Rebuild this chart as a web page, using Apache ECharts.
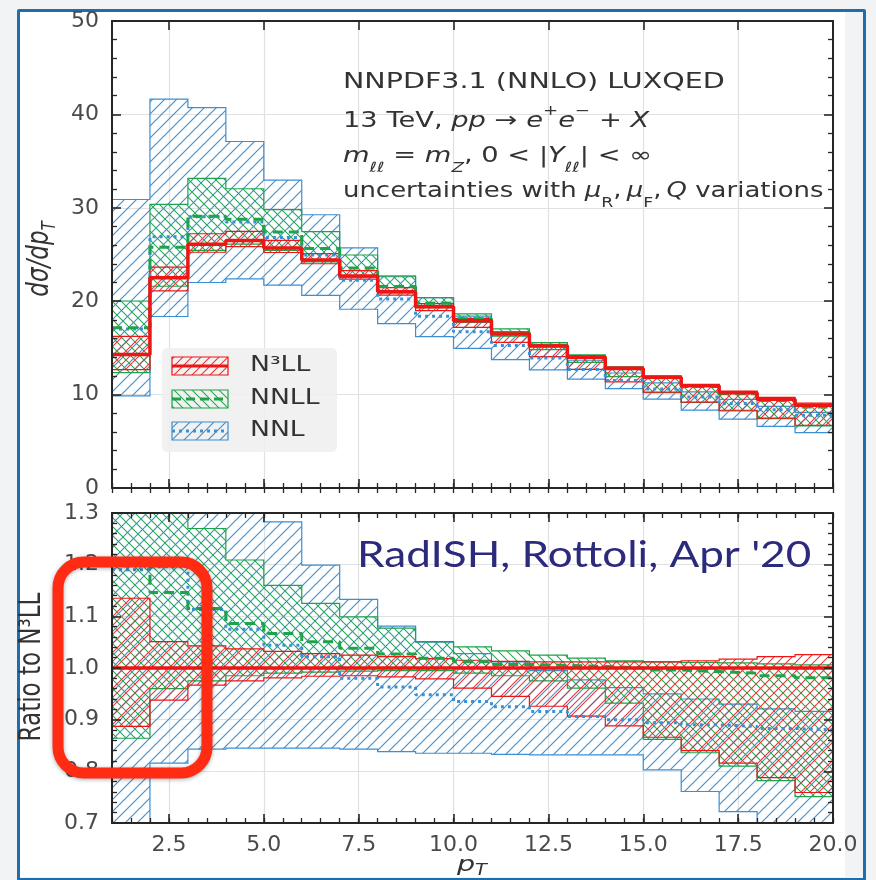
<!DOCTYPE html>
<html>
<head>
<meta charset="utf-8">
<script src="https://cdn.jsdelivr.net/npm/echarts@6/dist/echarts.min.js"></script>
<style>
  html, body { margin: 0; padding: 0; background: #f2f3f4; }
  #stage { position: relative; width: 876px; height: 880px; overflow: hidden; }
  #sheet { position: absolute; left: 19px; top: 11px; width: 826px; height: 866px; background: #ffffff; }
  #frame { position: absolute; left: 17px; top: 9px; width: 843px; height: 866px; border: 3px solid #1f6dab; border-radius: 2px; }
  #chart { position: absolute; left: 0; top: 0; width: 876px; height: 880px; }
</style>
</head>
<body>
<div id="stage">
  <div id="sheet"></div>
  <div id="frame"></div>
  <div id="chart"></div>
</div>
<script>
// Bin edges in p_T (one-unit bins from 1 to 20)
const ptEdges = [1, 2, 3, 4, 5, 6, 7, 8, 9, 10, 11, 12, 13, 14, 15, 16, 17, 18, 19, 20];

// N3LL central value of dsigma/dpT per bin
const n3llCentral = [14.3, 22.5, 26.1, 26.5, 25.7, 24.4, 22.7, 21.0, 19.4, 17.9,
                     16.5, 15.2, 14.0, 12.8, 11.85, 10.95, 10.2, 9.5, 8.85];

// Everything below is given as a ratio to the N3LL central value
const n3llLo = [0.887, 0.938, 0.967, 0.975, 0.981, 0.984, 0.985, 0.983, 0.979, 0.961,
                0.945, 0.926, 0.907, 0.888, 0.866, 0.840, 0.816, 0.788, 0.759];
const n3llHi = [1.135, 1.051, 1.043, 1.037, 1.032, 1.028, 1.025, 1.022, 1.018, 1.015,
                1.013, 1.012, 1.012, 1.012, 1.012, 1.014, 1.017, 1.022, 1.026];

const nnllCen = [1.200, 1.146, 1.115, 1.086, 1.067, 1.051, 1.038, 1.027, 1.019, 1.012,
                 1.007, 1.005, 1.003, 1.000, 0.996, 0.993, 0.990, 0.985, 0.981];
const nnllLo = [0.864, 0.960, 0.975, 0.985, 0.990, 0.992, 0.994, 0.995, 0.995, 0.990,
                0.985, 0.975, 0.961, 0.932, 0.862, 0.836, 0.810, 0.782, 0.751];
const nnllHi = [1.400, 1.350, 1.270, 1.209, 1.160, 1.125, 1.099, 1.077, 1.051, 1.041,
                1.033, 1.025, 1.019, 1.014, 1.012, 1.011, 1.010, 1.008, 1.006];

const nnlCen = [1.190, 1.196, 1.113, 1.075, 1.044, 1.022, 0.980, 0.963, 0.948, 0.935,
                0.925, 0.916, 0.906, 0.900, 0.894, 0.890, 0.887, 0.883, 0.880];
const nnlLo = [0.690, 0.816, 0.843, 0.845, 0.845, 0.845, 0.843, 0.838, 0.835, 0.835,
               0.833, 0.832, 0.832, 0.832, 0.803, 0.761, 0.722, 0.695, 0.670];
const nnlHi = [2.160, 1.850, 1.560, 1.400, 1.283, 1.199, 1.133, 1.081, 1.050, 1.028,
               1.012, 0.995, 0.977, 0.962, 0.950, 0.940, 0.930, 0.921, 0.916];

// Axis ticks
const xTickValues = [2.5, 5.0, 7.5, 10.0, 12.5, 15.0, 17.5, 20.0];
const xTickLabels = ['2.5', '5.0', '7.5', '10.0', '12.5', '15.0', '17.5', '20.0'];
const xMinorStep = 0.5;

const seriesNames = ['N\u00b3LL', 'NNLL', 'NNL'];

// ---------------------------------------------------------------------------
const RED = '#ee1515';
const GREEN = '#1fa34a';
const BLUE = '#3b8fd3';
const AXIS = '#262626';
const TICKTXT = '#4a4a4a';
const FONT = 'DejaVu Sans';

// absolute values for the upper panel
const toAbs = arr => arr.map((r, i) => r * n3llCentral[i]);
const unity = n3llCentral.map(v => v / v);

// hatch tile: dir > 0 draws '/', dir < 0 draws '\'
function hatch(color, size, dir, width) {
  const c = document.createElement('canvas');
  c.width = size; c.height = size;
  const g = c.getContext('2d');
  g.clearRect(0, 0, size, size);
  g.strokeStyle = color;
  g.lineWidth = width;
  g.beginPath();
  const h = size / 2;
  if (dir > 0) {
    g.moveTo(0, size); g.lineTo(size, 0);
    g.moveTo(-h, h); g.lineTo(h, -h);
    g.moveTo(h, size + h); g.lineTo(size + h, h);
  } else {
    g.moveTo(0, 0); g.lineTo(size, size);
    g.moveTo(-h, h); g.lineTo(h, size + h);
    g.moveTo(h, -h); g.lineTo(size + h, h);
  }
  g.stroke();
  return { type: 'pattern', image: c, repeat: 'repeat' };
}

const redHatch = hatch('#f03030', 9, 1, 1.05);
const greenHatch = hatch('#22a84f', 9, -1, 1.05);
const blueHatch = hatch(BLUE, 12, 1, 1.1);

function stepPoints(vals) {
  const pts = [];
  vals.forEach((v, i) => { pts.push([ptEdges[i], v], [ptEdges[i + 1], v]); });
  return pts;
}

// uncertainty band as one stepped polygon (upper edge left->right, lower edge back)
function bandSeries(name, lo, hi, color, pattern, xi, yi, z) {
  return {
    type: 'custom', name: name, xAxisIndex: xi, yAxisIndex: yi, z: z,
    clip: true, silent: true,
    data: [[ptEdges[0], 1]],
    renderItem: function (params, api) {
      const upper = [], lower = [];
      for (let i = 0; i < lo.length; i++) {
        upper.push(api.coord([ptEdges[i], hi[i]]), api.coord([ptEdges[i + 1], hi[i]]));
        lower.push(api.coord([ptEdges[i], lo[i]]), api.coord([ptEdges[i + 1], lo[i]]));
      }
      return {
        type: 'polygon',
        shape: { points: upper.concat(lower.reverse()) },
        style: { fill: pattern, stroke: color, lineWidth: 1.2 }
      };
    }
  };
}

function centralSeries(name, vals, color, dash, width, xi, yi, z) {
  return {
    type: 'line', name: name, xAxisIndex: xi, yAxisIndex: yi, z: z,
    data: stepPoints(vals), symbol: 'none', showSymbol: false, silent: true,
    clip: true,
    lineStyle: { color: color, width: width, type: dash, cap: 'butt' }
  };
}

const xMinorTicks = [];
for (let v = ptEdges[0]; v <= ptEdges[ptEdges.length - 1] + 1e-9; v += xMinorStep) xMinorTicks.push(v);

// ---- axes --------------------------------------------------------------------
const MAJOR_LEN = 9, MINOR_LEN = 5;
const LABEL_SIZE = 22;

function xAxes(gridIndex, withLabels) {
  const common = { type: 'value', gridIndex: gridIndex, min: ptEdges[0], max: ptEdges[ptEdges.length - 1] };
  return [
    // grid lines (behind the bands)
    Object.assign({}, common, {
      position: 'bottom', z: 0,
      axisLine: { show: false },
      axisTick: { show: false, customValues: xTickValues },
      axisLabel: { show: false, customValues: xTickValues },
      splitLine: { show: true, lineStyle: { color: '#e1e1e1', width: 1.2 } }
    }),
    // frame + major ticks + labels
    Object.assign({}, common, {
      position: 'bottom', z: 10,
      axisLine: { show: true, onZero: false, lineStyle: { color: AXIS, width: 2 } },
      axisTick: { show: true, inside: true, length: MAJOR_LEN, customValues: xTickValues, lineStyle: { color: AXIS, width: 1.6 } },
      axisLabel: {
        show: withLabels, customValues: xTickValues, margin: 11,
        color: TICKTXT, fontSize: LABEL_SIZE, fontFamily: FONT,
        formatter: v => { const k = xTickValues.findIndex(t => Math.abs(t - v) < 1e-9); return k >= 0 ? xTickLabels[k] : ''; }
      },
      splitLine: { show: false }
    }),
    Object.assign({}, common, {
      position: 'bottom', z: 10,
      axisLine: { show: false },
      axisTick: { show: true, inside: true, length: MINOR_LEN, customValues: xMinorTicks, lineStyle: { color: AXIS, width: 1.3 } },
      axisLabel: { show: false }, splitLine: { show: false }
    }),
    Object.assign({}, common, {
      position: 'top', z: 10,
      axisLine: { show: true, onZero: false, lineStyle: { color: AXIS, width: 2 } },
      axisTick: { show: true, inside: true, length: MAJOR_LEN, customValues: xTickValues, lineStyle: { color: AXIS, width: 1.6 } },
      axisLabel: { show: false }, splitLine: { show: false }
    }),
    Object.assign({}, common, {
      position: 'top', z: 10,
      axisLine: { show: false },
      axisTick: { show: true, inside: true, length: MINOR_LEN, customValues: xMinorTicks, lineStyle: { color: AXIS, width: 1.3 } },
      axisLabel: { show: false }, splitLine: { show: false }
    })
  ];
}

function yAxes(gridIndex, min, max, interval, fmt) {
  const common = { type: 'value', gridIndex: gridIndex, min: min, max: max, interval: interval };
  return [
    Object.assign({}, common, {
      position: 'left', z: 0,
      axisLine: { show: false }, axisTick: { show: false }, axisLabel: { show: false },
      splitLine: { show: true, lineStyle: { color: '#e1e1e1', width: 1.2 } }
    }),
    Object.assign({}, common, {
      position: 'left', z: 10,
      axisLine: { show: true, onZero: false, lineStyle: { color: AXIS, width: 2 } },
      axisTick: { show: true, inside: true, length: MAJOR_LEN, lineStyle: { color: AXIS, width: 1.6 } },
      minorTick: { show: true, splitNumber: 5, length: MINOR_LEN, lineStyle: { color: AXIS, width: 1.3 } },
      axisLabel: { show: true, margin: 13, color: TICKTXT, fontSize: LABEL_SIZE, fontFamily: FONT,
                   showMinLabel: true, showMaxLabel: true, formatter: fmt },
      splitLine: { show: false }
    }),
    Object.assign({}, common, {
      position: 'right', z: 10,
      axisLine: { show: true, onZero: false, lineStyle: { color: AXIS, width: 2 } },
      axisTick: { show: true, inside: true, length: MAJOR_LEN, lineStyle: { color: AXIS, width: 1.6 } },
      minorTick: { show: true, splitNumber: 5, length: MINOR_LEN, lineStyle: { color: AXIS, width: 1.3 } },
      axisLabel: { show: false }, splitLine: { show: false }
    })
  ];
}

// axis index bookkeeping: 5 x-axes and 3 y-axes per panel; series use the frame axes
const TOP_X = 1, BOT_X = 6, TOP_Y = 1, BOT_Y = 4;

const series = [
  // upper panel: absolute distributions
  bandSeries(seriesNames[2], toAbs(nnlLo), toAbs(nnlHi), BLUE, blueHatch, TOP_X, TOP_Y, 2),
  bandSeries(seriesNames[1], toAbs(nnllLo), toAbs(nnllHi), GREEN, greenHatch, TOP_X, TOP_Y, 3),
  bandSeries(seriesNames[0], toAbs(n3llLo), toAbs(n3llHi), RED, redHatch, TOP_X, TOP_Y, 4),
  centralSeries(seriesNames[2], toAbs(nnlCen), BLUE, [3, 4], 3, TOP_X, TOP_Y, 5),
  centralSeries(seriesNames[1], toAbs(nnllCen), GREEN, [10, 6], 3, TOP_X, TOP_Y, 6),
  centralSeries(seriesNames[0], n3llCentral, RED, 'solid', 3.5, TOP_X, TOP_Y, 7),
  // lower panel: ratios to N3LL
  bandSeries(seriesNames[2], nnlLo, nnlHi, BLUE, blueHatch, BOT_X, BOT_Y, 2),
  bandSeries(seriesNames[1], nnllLo, nnllHi, GREEN, greenHatch, BOT_X, BOT_Y, 3),
  bandSeries(seriesNames[0], n3llLo, n3llHi, RED, redHatch, BOT_X, BOT_Y, 4),
  centralSeries(seriesNames[2], nnlCen, BLUE, [3, 4], 3, BOT_X, BOT_Y, 5),
  centralSeries(seriesNames[1], nnllCen, GREEN, [10, 6], 3, BOT_X, BOT_Y, 6),
  centralSeries(seriesNames[0], unity, RED, 'solid', 3.5, BOT_X, BOT_Y, 7)
];

// ---- texts -------------------------------------------------------------------
const TXT = '#333333';
const infoRich = {
  n:    { fontFamily: FONT, fontSize: 21, lineHeight: 36, fill: TXT },
  i:    { fontFamily: FONT, fontSize: 21, lineHeight: 36, fill: TXT, fontStyle: 'italic' },
  sup:  { fontFamily: FONT, fontSize: 14, lineHeight: 22, fill: TXT, verticalAlign: 'top' },
  sub:  { fontFamily: FONT, fontSize: 14, lineHeight: 30, fill: TXT, verticalAlign: 'bottom' },
  subi: { fontFamily: FONT, fontSize: 14, lineHeight: 30, fill: TXT, verticalAlign: 'bottom', fontStyle: 'italic' }
};
// one entry per line: rich text, vertical centre, horizontal stretch
const infoLines = [
  { text: '{n|NNPDF3.1 (NNLO) LUXQED}', y: 83, sx: 1.36 },
  { text: '{n|13 TeV, }{i|pp}{n| \u2192 }{i|e}{sup|+}{i|e}{sup|\u2212}{n| + }{i|X}', y: 122, sx: 1.3 },
  { text: '{i|m}{subi|\u2113\u2113}{n| = }{i|m}{subi|Z}{n|, 0 < |}{i|Y}{subi|\u2113\u2113}{n|| < \u221e}', y: 157, sx: 1.3 },
  { text: '{n|uncertainties with }{i|\u03bc}{sub|R}{n|,\u2009}{i|\u03bc}{sub|F}{n|,\u2009}{i|Q}{n| variations}', y: 192, sx: 1.235 }
];

const legendRows = [
  { name: seriesNames[0], color: RED, fill: redHatch, dash: 'solid', mid: 366 },
  { name: seriesNames[1], color: GREEN, fill: greenHatch, dash: [9, 5], mid: 399 },
  { name: seriesNames[2], color: BLUE, fill: blueHatch, dash: [3, 4], mid: 431 }
];

const graphic = [];
// legend box
graphic.push({ type: 'rect', z: 50, shape: { x: 162, y: 348, width: 175, height: 104, r: 5 },
               style: { fill: 'rgba(238,238,238,0.85)', stroke: 'none' } });
legendRows.forEach(r => {
  graphic.push({ type: 'rect', z: 51, shape: { x: 172, y: r.mid - 9, width: 56, height: 18 },
                 style: { fill: r.fill, stroke: r.color, lineWidth: 1.2 } });
  graphic.push({ type: 'line', z: 52, shape: { x1: 172, y1: r.mid, x2: 228, y2: r.mid },
                 style: { stroke: r.color, lineWidth: 3, lineDash: r.dash === 'solid' ? null : r.dash } });
  graphic.push({ type: 'text', z: 52, x: 250, y: r.mid, scaleX: 1.3,
                 style: { text: r.name, fontFamily: FONT, fontSize: 20.5, fill: TXT, verticalAlign: 'middle', align: 'left' } });
});
// info block
infoLines.forEach(l => {
  graphic.push({ type: 'text', z: 52, x: 343, y: l.y - 18, scaleX: l.sx,
                 style: { text: l.text, rich: infoRich, verticalAlign: 'top', align: 'left' } });
});
// axis titles
graphic.push({ type: 'text', z: 52, x: 40, y: 259, rotation: Math.PI / 2, scaleY: 1.3,
               style: { text: '{i|d\u03c3/dp}{s|T}', align: 'center', verticalAlign: 'middle',
                        rich: { i: { fontFamily: FONT, fontSize: 23, fontStyle: 'italic', fill: TXT, lineHeight: 30 },
                                s: { fontFamily: FONT, fontSize: 15, fontStyle: 'italic', fill: TXT, lineHeight: 20, verticalAlign: 'bottom' } } } });
graphic.push({ type: 'text', z: 52, x: 32, y: 667, rotation: Math.PI / 2, scaleY: 1.3,
               style: { text: 'Ratio to N\u00b3LL', fontFamily: FONT, fontSize: 23, fill: TXT, align: 'center', verticalAlign: 'middle' } });
graphic.push({ type: 'text', z: 52, x: 472, y: 865, scaleX: 1.3,
               style: { text: '{i|p}{s|T}', align: 'center', verticalAlign: 'middle',
                        rich: { i: { fontFamily: FONT, fontSize: 22, fontStyle: 'italic', fill: TXT, lineHeight: 28 },
                                s: { fontFamily: FONT, fontSize: 15, fontStyle: 'italic', fill: TXT, lineHeight: 19, verticalAlign: 'bottom' } } } });
// author stamp
graphic.push({ type: 'text', z: 60, x: 357, y: 555, scaleX: 1.19,
               style: { text: "RadISH, Rottoli, Apr '20", fontFamily: 'Lato', fontSize: 37, fill: '#2c2a7c',
                        align: 'left', verticalAlign: 'middle' } });
// highlight ring
graphic.push({ type: 'rect', z: 70, shape: { x: 58, y: 562, width: 149, height: 211, r: 26 },
               style: { fill: 'none', stroke: '#ff2b12', lineWidth: 11,
                        shadowBlur: 4, shadowColor: 'rgba(0,0,0,0.35)', shadowOffsetY: 1 } });

const option = {
  animation: false,
  backgroundColor: 'transparent',
  textStyle: { fontFamily: FONT },
  grid: [
    { left: 112, top: 21, width: 721, height: 467, containLabel: false, outerBoundsMode: 'none' },
    { left: 112, top: 513, width: 721, height: 310, containLabel: false, outerBoundsMode: 'none' }
  ],
  xAxis: xAxes(0, false).concat(xAxes(1, true)),
  yAxis: yAxes(0, 0, 50, 10, v => String(Math.round(v)))
           .concat(yAxes(1, 0.7, 1.3, 0.1, v => v.toFixed(1))),
  series: series,
  graphic: graphic
};

const chart = echarts.init(document.getElementById('chart'), null, { renderer: 'canvas' });
chart.setOption(option);
</script>
</body>
</html>
